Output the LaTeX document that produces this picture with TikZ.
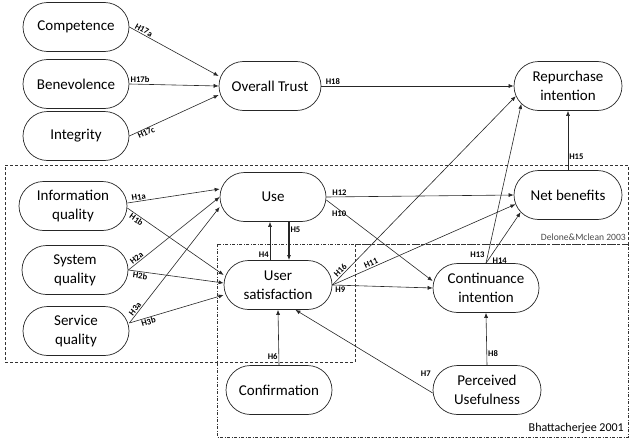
\documentclass[tikz,border=0pt]{standalone}
\usepackage{fontspec}
\setmainfont{Carlito}
\usetikzlibrary{shapes.misc,arrows.meta}
\begin{document}
\begin{tikzpicture}[x=1pt,y=-1pt,
  cnode/.style={draw=black!85, line width=0.7pt, rounded rectangle, minimum width=108pt, minimum height=49pt, align=center, font=\fontsize{15}{19}\selectfont, inner sep=1pt},
  arr/.style={-{Latex[length=5pt,width=4pt]}, line width=0.6pt, draw=black!85},
  hl/.style={font=\bfseries\fontsize{8.6}{10}\selectfont, inner sep=1pt, text=black},
  dregion/.style={draw=black!80, line width=0.7pt, dash pattern=on 3pt off 2pt},
  bregion/.style={draw=black!80, line width=0.6pt, dash pattern=on 3pt off 1.5pt on 1pt off 1.5pt},
]
\useasboundingbox (0,0) rectangle (632,439);

% regions
\draw[dregion] (5,165) -- (628,165) -- (628,244) -- (355,244) -- (355,362) -- (5,362) -- cycle;
\draw[bregion] (217,244) rectangle (628,437);
\node[anchor=south east, inner sep=0pt, text=black!70, font=\fontsize{9.6}{11}\selectfont] (dml) at (626,241) {Delone\&Mclean 2003};
\node[anchor=south east, inner sep=0pt, font=\fontsize{12}{14}\selectfont] (bh) at (624,434) {Bhattacherjee 2001};

% nodes
\node[cnode] (comp) at (76,27) {Competence};
\node[cnode] (bene) at (76,84) {Benevolence};
\node[cnode] (integ) at (76,136) {Integrity};
\node[cnode, minimum width=104pt] (trust) at (270,86) {Overall Trust};
\node[cnode, minimum width=110pt] (rep) at (568,86) {Repurchase\\intention};
\node[cnode, minimum width=110pt] (net) at (568,195) {Net benefits};
\node[cnode] (use) at (273,197) {Use};
\node[cnode, minimum width=110pt] (us) at (278,285) {User\\satisfaction};
\node[cnode, minimum width=110pt] (info) at (73,206) {Information\\quality};
\node[cnode] (sys) at (75,270) {System\\quality};
\node[cnode] (svc) at (76,331) {Service\\quality};
\node[cnode] (cont) at (486,288) {Continuance\\intention};
\node[cnode, minimum width=110pt] (pu) at (487,390) {Perceived\\Usefulness};
\node[cnode] (conf) at (279,390) {Confirmation};

% trust edges
\draw[arr] (comp.east) -- node[hl, pos=0.14, above, sloped] {H17a} ([yshift=10pt]trust.west);
\draw[arr] (bene.east) -- node[hl, pos=0.12, above] {H17b} (trust.west);
\draw[arr] (integ.east) -- node[hl, pos=0.17, below, sloped] {H17c} ([yshift=-9pt]trust.west);
\draw[arr] (trust.east) -- node[hl, pos=0.06, above] {H18} (rep.west);
\draw[arr] (net.north) -- node[hl, pos=0.22, right] {H15} (rep.south);

% D&M edges
\draw[arr] ([yshift=3pt]info.east) -- node[hl, pos=0.13, above, sloped] {H1a} ([yshift=8pt]use.west);
\draw[arr] ([yshift=-2pt]info.east) -- node[hl, pos=0.12, below, sloped] {H1b} ([yshift=10pt]us.west);
\draw[arr] (sys.east) -- node[hl, pos=0.12, above, sloped] {H2a} (use.west);
\draw[arr] (sys.east) -- node[hl, pos=0.13, below, sloped] {H2b} ([yshift=2pt]us.west);
\draw[arr] ([yshift=8pt]svc.east) -- node[hl, pos=0.1, above, sloped] {H3a} ([yshift=-10pt]use.west);
\draw[arr] ([yshift=8pt]svc.east) -- node[hl, pos=0.19, below, sloped] {H3b} ([yshift=-10pt]us.west);

\draw[arr] ([xshift=-8pt]us.north) -- node[hl, pos=0.15, left] {H4} ([xshift=-3pt]use.south);
\draw[-{Latex[length=5pt,width=4pt]}, line width=1.1pt, draw=black!85] ([xshift=16pt]use.south) -- node[hl, pos=0.2, right] {H5} ([xshift=11pt]us.north);

\draw[arr] (use.east) -- node[hl, pos=0.07, above] {H12} (net.west);
\draw[arr] ([yshift=-3pt]use.east) -- node[hl, pos=0.12, below] {H10} ([yshift=7pt]cont.west);
\draw[arr] (us.east) -- node[hl, pos=0.06, above, sloped] {H16} (rep.191);
\draw[arr] (us.east) -- node[hl, pos=0.22, above, sloped] {H11} (net.190);
\draw[arr] (us.east) -- node[hl, pos=0.08, below] {H9} (cont.west);
\draw[arr] (cont.north) -- node[hl, pos=0.05, left, xshift=-2pt] {H13} (rep.201);
\draw[arr] (cont.north) -- node[hl, pos=0.04, right, xshift=4pt] {H14} (net.200);

% Bhattacherjee edges
\draw[arr] (pu.north) -- node[hl, pos=0.23, right] {H8} (cont.south);
\draw[arr] ([yshift=-3pt]pu.west) -- node[hl, pos=0.05, above=11pt] {H7} (us.305);
\draw[arr] (conf.north) -- node[hl, pos=0.16, left] {H6} (us.south);
\end{tikzpicture}
\end{document}
